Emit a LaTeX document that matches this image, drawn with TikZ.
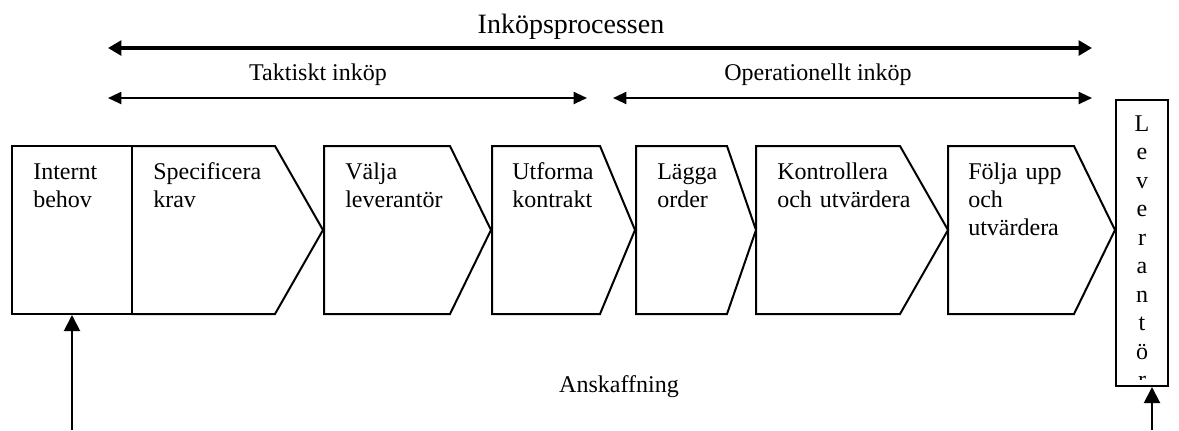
\documentclass[tikz,border=0pt]{standalone}
\usepackage{fontspec}
\setmainfont{Liberation Serif}
\usetikzlibrary{arrows.meta}
\tikzset{
  stage/.style={draw=black, line width=1.5pt, line join=miter, inner sep=0pt},
  stagetext/.style={anchor=base west, inner sep=0pt, text width=110pt, align=left, font=\fontsize{18}{21}\selectfont},
  levtext/.style={anchor=base, inner sep=0pt, text width=20pt, align=center, font=\fontsize{18}{21.4}\selectfont},
  spantext/.style={inner sep=0pt, font=\fontsize{18}{21}\selectfont},
  bigspan/.style={{Triangle[length=10pt,width=11pt]}-{Triangle[length=10pt,width=11pt]}, line width=3pt},
  phasespan/.style={{Triangle[length=10pt,width=9pt]}-{Triangle[length=10pt,width=9pt]}, line width=1.5pt},
  feed/.style={-{Triangle[length=12pt,width=12pt]}, line width=1.5pt}
}
\begin{document}
\begin{tikzpicture}[x=0.75pt, y=-0.75pt]
  \useasboundingbox (0,0) rectangle (1179,430);
  \node[spantext, font=\fontsize{21}{24}\selectfont] (proc) at (571,27) {Inköpsprocessen};
  \coordinate (procL) at (108,48); \coordinate (procR) at (1092,48);
  \draw[bigspan] (procL)--(procR);
  \node[spantext] (takt) at (318,75) {Taktiskt inköp};
  \coordinate (taktL) at (108,98); \coordinate (taktR) at (587,98);
  \draw[phasespan] (taktL)--(taktR);
  \node[spantext] (oper) at (818,75) {Operationellt inköp};
  \coordinate (operL) at (613,98); \coordinate (operR) at (1092,98);
  \draw[phasespan] (operL)--(operR);

  \node[stage, minimum width=90pt, minimum height=126pt] (behov) at (72,230) {};
  \draw[stage] (132,146)--(275,146)--(323,230)--(275,314)--(132,314);
  \draw[stage] (324,146)--(450,146)--(491,230)--(450,314)--(324,314)--cycle;
  \draw[stage] (492,146)--(600,146)--(635,230)--(600,314)--(492,314)--cycle;
  \draw[stage] (636,146)--(727,146)--(756,230)--(727,314)--(636,314)--cycle;
  \draw[stage] (756,146)--(900,146)--(948,230)--(900,314)--(756,314)--cycle;
  \draw[stage] (948,146)--(1074,146)--(1115,230)--(1074,314)--(948,314)--cycle;
  \node[stagetext] (behovtxt) at (33,179) {Internt\\behov};
  \node[stagetext] (spec) at (153,179) {Specificera\\krav};
  \node[stagetext] (valj) at (345,179) {Välja\\leverantör};
  \node[stagetext] (utf) at (512,179) {Utforma\\kontrakt};
  \node[stagetext] (lagga) at (657,179) {Lägga\\order};
  \node[stagetext] (kontr) at (777,179) {Kontrollera\\och utvärdera};
  \node[stagetext] (folj) at (968,179) {Följa upp\\och\\utvärdera};

  \node[spantext] (ansk) at (619,387) {Anskaffning};

  \node[stage, minimum width=39pt, minimum height=214.5pt] (lev) at (1142,243) {};
  \begin{scope}
    \clip (1117,101) rectangle (1167,379);
    \node[levtext] (levtxt) at (1142,131) {L\\e\\v\\e\\r\\a\\n\\t\\ö\\r};
  \end{scope}

  \coordinate (needin) at (72,430); \draw[feed] (needin)--(behov.south);
  \coordinate (levin) at (1152,430); \draw[feed] (levin)--(levin |- lev.south);
\end{tikzpicture}
\end{document}
